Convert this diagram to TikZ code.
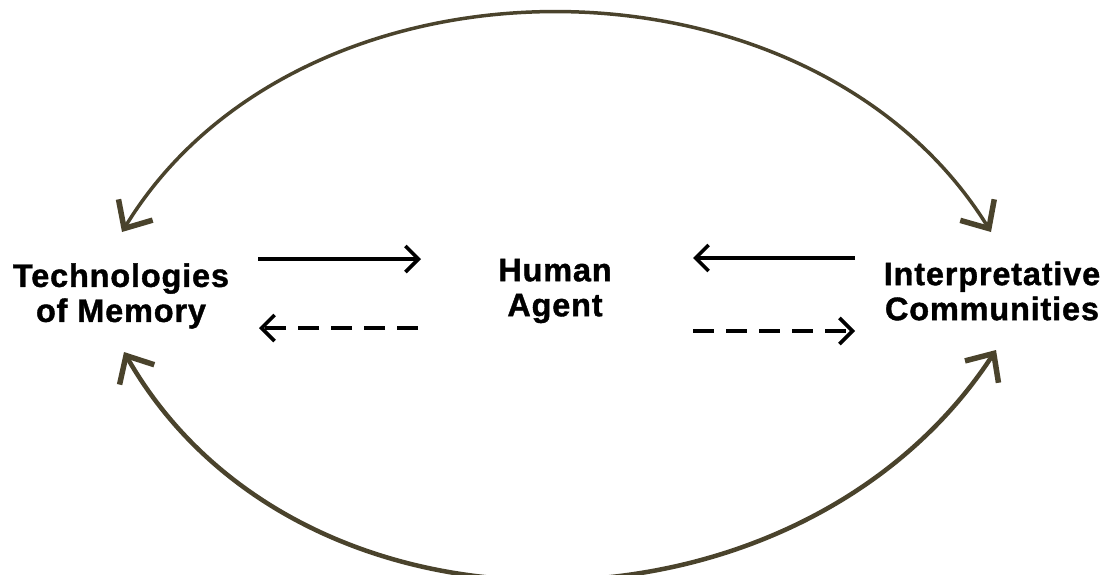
\documentclass[tikz,border=0pt]{standalone}
\usepackage{fontspec}
\setmainfont{Liberation Sans}[LetterSpace=2.5]
\usetikzlibrary{arrows.meta}
\definecolor{arcol}{HTML}{4A432C}
\tikzset{
  lbl/.style={font=\bfseries\addfontfeature{FakeBold=1.2}\fontsize{32.5}{35}\selectfont, align=center, inner sep=0pt},
  flow/.style={line width=3.4pt, black, -{Straight Barb[length=13pt,width=26pt,line width=3.6pt]}},
  flowdash/.style={flow, dash pattern=on 21pt off 12pt},
  arc/.style={arcol, {Straight Barb[length=22pt,width=40pt,line width=5.5pt]}-{Straight Barb[length=22pt,width=40pt,line width=5.5pt]}}
}
\begin{document}
\begin{tikzpicture}[x=1pt,y=-1pt]
\useasboundingbox (0,0) rectangle (1107,574);
\node[lbl] (tech) at (121,296) {Technologies\\of Memory};
\node[lbl] (human) at (555,291) {Human\\Agent};
\node[lbl] (comm) at (992,291) {Interpretative\\Communities};
% short arrows
\coordinate (a1s) at (258,259); \coordinate (a1e) at (421,259);
\coordinate (a2s) at (418,328); \coordinate (a2e) at (259,328);
\coordinate (a3s) at (855,258); \coordinate (a3e) at (693,258);
\coordinate (a4s) at (693,331); \coordinate (a4e) at (855,331);
\draw[flow] (a1s) -- (a1e);
\draw[flowdash] (a2s) -- (a2e);
\draw[flow] (a3s) -- (a3e);
\draw[flowdash] (a4s) -- (a4e);
% arcs
\coordinate (tl) at (122,232); \coordinate (tr) at (991,232);
\coordinate (bl) at (124,352); \coordinate (br) at (996,350);
\draw[arc, line width=3.5pt] (tl) .. controls (300,-60) and (810,-60) .. (tr);
\draw[arc, line width=4.5pt] (bl) .. controls (300,660) and (800,650) .. (br);
\end{tikzpicture}
\end{document}
